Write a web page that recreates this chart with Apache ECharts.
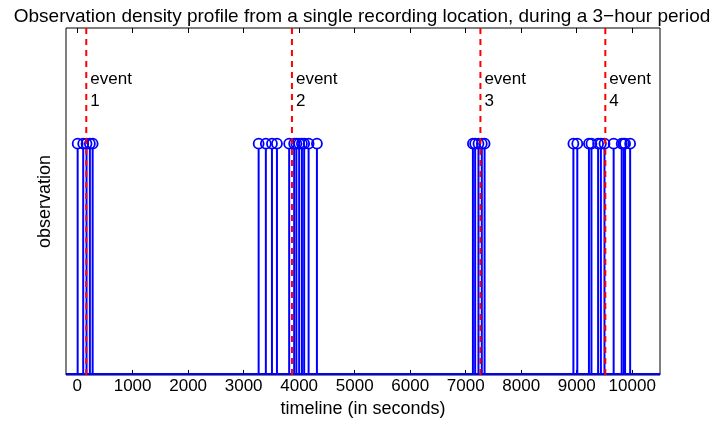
<!DOCTYPE html>
<html>
<head>
<meta charset="utf-8">
<script src="https://cdn.jsdelivr.net/npm/echarts@6/dist/echarts.min.js"></script>
<style>html,body{margin:0;padding:0;background:#fff;}#c{width:716px;height:423px;}</style>
</head>
<body>
<div id="c"></div>
<script>
// Observation times (seconds), each stem has value 1
const obsTimes = [10, 110, 170, 230, 280,
  3270, 3400, 3510, 3600, 3820, 3910, 3950, 4000, 4050, 4090, 4170, 4320,
  7130, 7170, 7230, 7290, 7340,
  8940, 9010, 9220, 9265, 9385, 9435, 9500, 9665, 9810, 9847, 9871, 9962];
const obsValue = 1;
const eventTimes = [165, 3870, 7265, 9515];
const eventNames = ['1', '2', '3', '4'];
const xTicks = [0, 1000, 2000, 3000, 4000, 5000, 6000, 7000, 8000, 9000, 10000];

const chart = echarts.init(document.getElementById('c'));
const font = 'Liberation Sans, Arial, Helvetica, sans-serif';
chart.setOption({
  animation: false,
  title: {
    text: 'Observation density profile from a single recording location, during a 3\u2212hour period',
    left: 357, top: 2, textAlign: 'center',
    textStyle: {fontFamily: font, fontSize: 19, fontWeight: 'normal', color: '#000'}
  },
  grid: {left: 66, right: 56, top: 28, bottom: 48, show: true, borderColor: '#000', borderWidth: 1},
  xAxis: [{
    type: 'value', min: -200, max: 10500, interval: 1000,
    name: 'timeline (in seconds)', nameLocation: 'middle', nameGap: 21,
    nameTextStyle: {fontFamily: font, fontSize: 18, color: '#000'},
    axisLine: {show: false},
    axisTick: {show: true, inside: true, length: 5, lineStyle: {color: '#000'}, customValues: xTicks},
    axisLabel: {fontFamily: font, fontSize: 17, color: '#000', margin: 3, customValues: xTicks, formatter: v => String(v)},
    splitLine: {show: false}
  }, {
    type: 'value', min: -200, max: 10500, position: 'top',
    axisLine: {show: false},
    axisTick: {show: true, inside: true, length: 5, lineStyle: {color: '#000'}, customValues: xTicks},
    axisLabel: {show: false}, splitLine: {show: false}
  }],
  yAxis: {
    type: 'value', min: 0, max: 1.5,
    name: 'observation', nameLocation: 'middle', nameGap: 12,
    nameTextStyle: {fontFamily: font, fontSize: 18, color: '#000'},
    axisLine: {show: false}, axisTick: {show: false}, axisLabel: {show: false}, splitLine: {show: false}
  },
  series: [{
    type: 'custom',
    data: [[-200, 0], [10500, 0]],
    renderItem: function (params, api) {
      if (params.dataIndex > 0) return null;
      const a = api.coord([-200, 0]), b = api.coord([10500, 0]);
      return {type: 'line', shape: {x1: a[0], y1: a[1] - 1, x2: b[0], y2: b[1] - 1},
        style: {stroke: '#0000ff', lineWidth: 2}};
    },
    z: 3
  }, {
    type: 'custom',
    data: obsTimes.map(t => [t, obsValue]),
    renderItem: function (params, api) {
      const x = api.value(0), y = api.value(1);
      const base = api.coord([x, 0]), top = api.coord([x, y]);
      return {type: 'group', children: [
        {type: 'line', shape: {x1: base[0], y1: base[1], x2: top[0], y2: top[1] + 5},
          style: {stroke: '#0000ff', lineWidth: 2}},
        {type: 'circle', shape: {cx: top[0], cy: top[1], r: 5},
          style: {stroke: '#0000ff', fill: 'none', lineWidth: 1.8}}
      ]};
    },
    z: 4
  }, {
    type: 'custom',
    data: eventTimes.map((t, i) => [t, i]),
    renderItem: function (params, api) {
      const x = api.value(0);
      const b = api.coord([x, 0]), t = api.coord([x, 1.5]);
      return {type: 'group', children: [
        {type: 'line', shape: {x1: b[0], y1: b[1], x2: t[0], y2: t[1]},
          style: {stroke: '#ff0000', lineWidth: 2, lineDash: [6, 5]}},
        {type: 'text', style: {x: t[0] + 4, y: t[1] + 40,
          text: 'event\n' + eventNames[api.value(1)], fill: '#000',
          font: '17px ' + font, lineHeight: 22, textVerticalAlign: 'top'}}
      ]};
    },
    z: 5
  }]
});
</script>
</body>
</html>
